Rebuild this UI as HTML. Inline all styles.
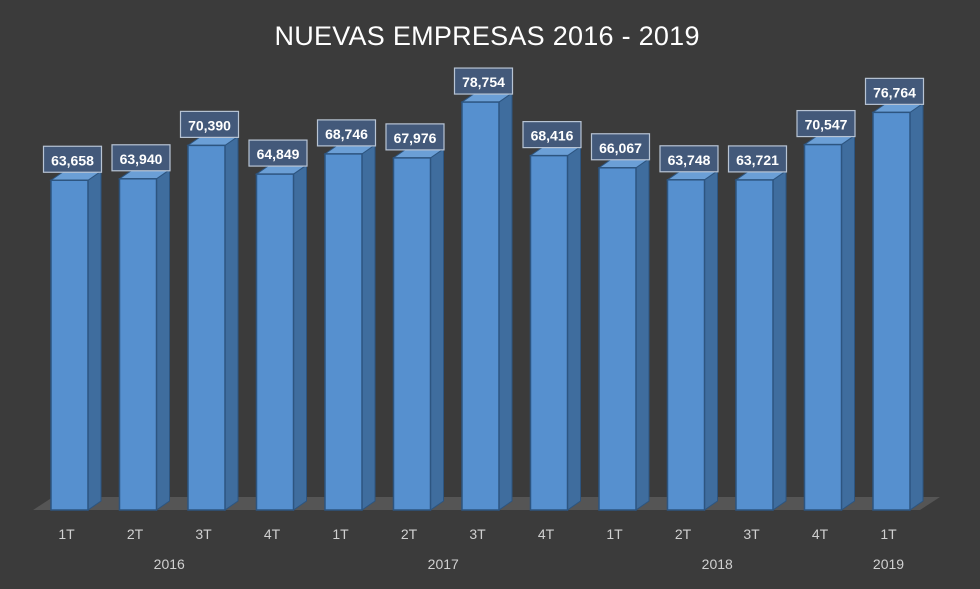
<!DOCTYPE html>
<html><head><meta charset="utf-8"><style>
body{margin:0;background:#3b3b3b;}
svg{display:block;font-family:"Liberation Sans",sans-serif;}
</style></head><body>
<svg width="980" height="589" viewBox="0 0 980 589">
<rect width="980" height="589" fill="#3b3b3b"/>
<text x="487" y="45" text-anchor="middle" font-size="27" fill="#ffffff" textLength="425">NUEVAS EMPRESAS 2016 - 2019</text>
<polygon points="33,510 920,510 940,497 53,497" fill="#555555"/>
<g id="bars"></g>
<g id="labels"></g>
</svg>
<script>
const categories=["1T","2T","3T","4T","1T","2T","3T","4T","1T","2T","3T","4T","1T"];
const values=[63658,63940,70390,64849,68746,67976,78754,68416,66067,63748,63721,70547,76764];
const years=["2016","2017","2018","2019"];
const yearCenters=[1.5,5.5,9.5,12];
const ns="http://www.w3.org/2000/svg";
const base=510, k=0.00518, x0=51, step=68.5, w=37, dx=13, dy=9;
function xs(i){return x0+i*step;}
function ys(v){return base-v*k;}
function mk(tag,attrs,parent){const e=document.createElementNS(ns,tag);for(const a in attrs)e.setAttribute(a,attrs[a]);parent.appendChild(e);return e;}
const gb=document.getElementById('bars'), gl=document.getElementById('labels'), svg=document.querySelector('svg');
values.forEach((v,i)=>{
  const x=xs(i), t=ys(v);
  const g=mk('g',{},gb);
  
  
  mk('polygon',{points:`${x+w},${t} ${x+w+dx},${t-dy} ${x+w+dx},${base-dy} ${x+w},${base}`,fill:'#3f6d9e',stroke:'#2d5580','stroke-width':1},g);
  mk('polygon',{points:`${x},${t} ${x+dx},${t-dy} ${x+w+dx},${t-dy} ${x+w},${t}`,fill:'#6b9fd6',stroke:'#2d5580','stroke-width':1},g);
  mk('rect',{x:x,y:t,width:w,height:base-t,fill:'#5690cf',stroke:'#2d5580','stroke-width':1.5},g);
  const cx=x+w/2+3;
  const lb=mk('g',{},gl);
  
  
  mk('rect',{x:cx-29,y:t-34,width:58,height:26,fill:'#43597a',stroke:'#b8c4d4','stroke-width':1.2},lb);
  const tx=mk('text',{x:cx,y:t-15,'text-anchor':'middle','font-size':14,'font-weight':'bold',fill:'#ffffff'},lb);
  tx.textContent=v.toLocaleString('en-US');
  const ct=mk('text',{x:x+w/2-3,y:539,'text-anchor':'middle','font-size':14,fill:'#d0d0d0'},svg);
  
  
  ct.textContent=categories[i];
});
years.forEach((y,j)=>{
  const t=mk('text',{x:xs(yearCenters[j])+w/2-3,y:569,'text-anchor':'middle','font-size':14,fill:'#d0d0d0'},svg);
  
  
  t.textContent=y;
});
</script>
</body></html>
